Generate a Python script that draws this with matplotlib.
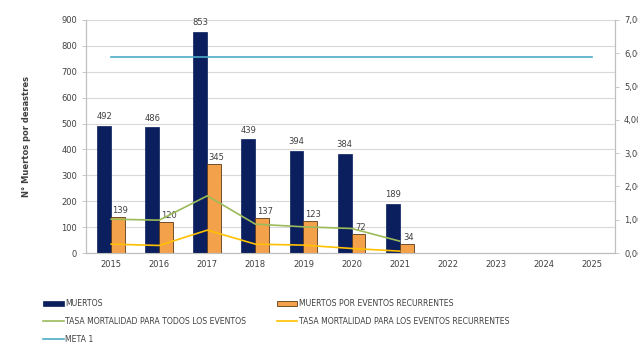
import matplotlib.pyplot as plt
import numpy as np

years = ["2015", "2016", "2017", "2018", "2019", "2020", "2021", "2022", "2023", "2024", "2025"]
muertos = [492, 486, 853, 439, 394, 384, 189]
muertos_rec = [139, 120, 345, 137, 123, 72, 34]
tasa_todos = [1.02, 0.99, 1.72, 0.87, 0.79, 0.74, 0.36]
tasa_rec = [0.27, 0.23, 0.69, 0.27, 0.24, 0.14, 0.06]
meta = [5.9] * len(years)

x_all = np.arange(len(years))
x = np.arange(len(muertos))
w = 0.29

fig = plt.figure(figsize=(6.38, 3.43), dpi=100)
ax = fig.add_axes([0.135, 0.262, 0.829, 0.680])
ax2 = ax.twinx()

b1 = ax.bar(x - w / 2, muertos, w, color="#0b1f5e", edgecolor="#0b1f5e", linewidth=0.5, label="MUERTOS", zorder=3)
b2 = ax.bar(x + w / 2, muertos_rec, w, color="#f4a14c", edgecolor="#5a3a1a", linewidth=0.6,
            label="MUERTOS POR EVENTOS RECURRENTES", zorder=3)

for xi, v in zip(x, muertos):
    ax.text(xi - w / 2, v + 18, str(v), ha="center", va="bottom", fontsize=6, color="#404040", zorder=4)
for xi, v in zip(x, muertos_rec):
    ax.text(xi + w / 2 + 0.05, v + 8, str(v), ha="center", va="bottom", fontsize=6, color="#404040", zorder=4)

l1, = ax2.plot(x, tasa_todos, color="#9bbb59", lw=1.2, label="TASA MORTALIDAD PARA TODOS LOS EVENTOS")
l2, = ax2.plot(x, tasa_rec, color="#ffc000", lw=1.2, label="TASA MORTALIDAD PARA LOS EVENTOS RECURRENTES")
l3, = ax2.plot(x_all, meta, color="#4bacc6", lw=1.2, label="META 1")

ax.set_xlim(-0.52, 10.48)
ax.set_ylim(0, 900)
ax.set_yticks(range(0, 901, 100))
ax2.set_ylim(0, 7)
ax2.set_yticks(range(0, 8))
ax2.set_yticklabels([f"{v},00" for v in range(0, 8)])
ax.set_xticks(x_all)
ax.set_xticklabels(years)

ax.grid(axis="y", color="#d9d9d9", lw=0.8, zorder=0)
ax.set_axisbelow(True)
for a in (ax, ax2):
    for s in a.spines.values():
        s.set_color("#bfbfbf")
        s.set_linewidth(0.8)
    a.spines["top"].set_visible(False)
    a.tick_params(labelsize=6, colors="#404040", length=3, width=0.6)
ax.tick_params(axis="x", length=0, pad=5)
ax.tick_params(axis="y", color="#bfbfbf")
ax2.tick_params(axis="y", color="#bfbfbf")

ax.set_ylabel("N° Muertos por desastres", fontsize=6, fontweight="bold", color="#404040", labelpad=22)

fig.legend([b1, l1, l3, b2, l2],
           [b1.get_label(), l1.get_label(), l3.get_label(), b2.get_label(), l2.get_label()],
           loc="upper left", bbox_to_anchor=(0.063, 0.137), ncol=2, frameon=False,
           fontsize=5.6, labelspacing=1.15, columnspacing=4.0, handlelength=2.6, handletextpad=0.2,
           borderaxespad=0, labelcolor="#404040")

fig.savefig("out.png", dpi=100)
